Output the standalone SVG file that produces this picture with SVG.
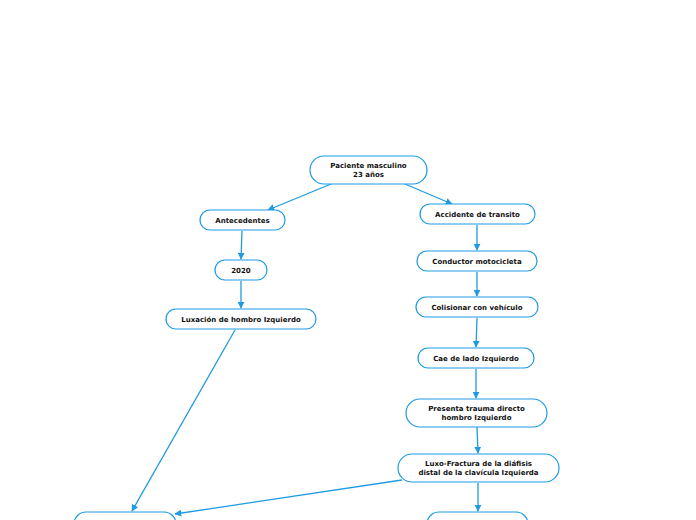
<svg xmlns="http://www.w3.org/2000/svg" width="696" height="520" viewBox="0 0 696 520">
<style>
.n rect{fill:#fff;stroke:#1e9be3;stroke-width:1.2}
.n text{font-family:"DejaVu Sans",Verdana,sans-serif;font-weight:bold;font-size:7px;fill:#111;text-anchor:middle}
.c line{stroke:#1e9be3;stroke-width:1.3;marker-end:url(#a)}
</style>
<defs>
<marker id="a" viewBox="0 0 10 10" refX="9" refY="5" markerWidth="7" markerHeight="7" markerUnits="userSpaceOnUse" orient="auto">
<path d="M0,0L10,5L0,10z" fill="#1e9be3"/>
</marker>
</defs>
<rect width="696" height="520" fill="#fff"/>
<g id="connectors" class="c">
<line x1="331" y1="184" x2="268" y2="210"/>
<line x1="405" y1="184" x2="452" y2="204"/>
<line x1="242" y1="231" x2="241" y2="259"/>
<line x1="241" y1="281" x2="241" y2="308"/>
<line x1="235" y1="330" x2="132" y2="511"/>
<line x1="477" y1="225" x2="477" y2="250"/>
<line x1="477" y1="272" x2="477" y2="296"/>
<line x1="477" y1="318" x2="476" y2="347"/>
<line x1="476" y1="369" x2="476" y2="398"/>
<line x1="477" y1="427" x2="478" y2="453"/>
<line x1="478" y1="483" x2="478" y2="511"/>
<line x1="402" y1="480" x2="175" y2="514"/>
</g>
<g id="n1" class="n"><rect x="310" y="156" width="117" height="28" rx="14"/><text x="368.5" y="167.5">Paciente masculino</text><text x="368.5" y="177">23 años</text></g>
<g id="n2" class="n"><rect x="200" y="210" width="85" height="20" rx="10"/><text x="242.5" y="222.5">Antecedentes</text></g>
<g id="n3" class="n"><rect x="215" y="260" width="52" height="20" rx="10"/><text x="241" y="272.5">2020</text></g>
<g id="n4" class="n"><rect x="166" y="309" width="150" height="20" rx="10"/><text x="241" y="321.5">Luxación de hombro Izquierdo</text></g>
<g id="n5" class="n"><rect x="420" y="204" width="115" height="20" rx="10"/><text x="477.5" y="216.5">Accidente de transito</text></g>
<g id="n6" class="n"><rect x="417" y="251" width="120" height="20" rx="10"/><text x="477" y="263.5">Conductor motocicleta</text></g>
<g id="n7" class="n"><rect x="416" y="297" width="122" height="20" rx="10"/><text x="477" y="309.5">Colisionar con vehículo</text></g>
<g id="n8" class="n"><rect x="418" y="348" width="116" height="20" rx="10"/><text x="476" y="360.5">Cae de lado Izquierdo</text></g>
<g id="n9" class="n"><rect x="406" y="399" width="141" height="28" rx="14"/><text x="476.5" y="410.5">Presenta trauma directo</text><text x="476.5" y="420">hombro Izquierdo</text></g>
<g id="n10" class="n"><rect x="398" y="454" width="161" height="28" rx="14"/><text x="478.5" y="465.5">Luxo-Fractura de la diáfisis</text><text x="478.5" y="475">distal de la clavícula Izquierda</text></g>
<g id="n11" class="n"><rect x="427" y="512" width="101" height="24" rx="12"/></g>
<g id="n12" class="n"><rect x="74" y="512" width="102" height="24" rx="12"/></g>
</svg>
